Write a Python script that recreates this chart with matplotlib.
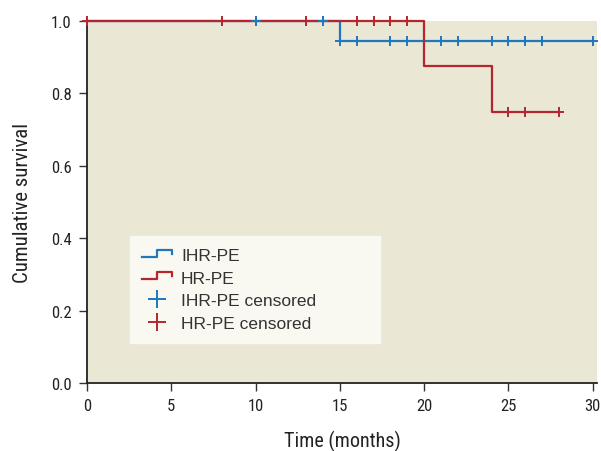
# Kaplan-Meier curves, IHR-PE vs HR-PE
import matplotlib
matplotlib.use("Agg")
import matplotlib.pyplot as plt
from matplotlib.legend_handler import HandlerBase
from matplotlib.lines import Line2D

# step data (time, survival)
ihr_time = [0, 15, 30]
ihr_surv = [1.0, 0.944, 0.944]
hr_time = [0, 20, 24, 28]
hr_surv = [1.0, 0.875, 0.75, 0.75]

# censored times
ihr_cens_t = [10, 14, 15, 16, 18, 19, 21, 22, 24, 25, 26, 27, 30]
hr_cens_t = [0, 8, 13, 16, 17, 18, 19, 25, 26, 28]

xticks = [0, 5, 10, 15, 20, 25, 30]
yticks = [0.0, 0.2, 0.4, 0.6, 0.8, 1.0]

blue = '#1f77bd'
red = '#b3262e'
bg = '#ebe7d5'


def surv_at(times, survs, t):
    s = survs[0]
    for ti, si in zip(times, survs):
        if t >= ti:
            s = si
    return s


ihr_cens_s = [surv_at(ihr_time, ihr_surv, t) for t in ihr_cens_t]
hr_cens_s = [surv_at(hr_time, hr_surv, t) for t in hr_cens_t]

cond = ['Roboto Condensed', 'DejaVu Sans']

fig = plt.figure(figsize=(6.01, 4.52), dpi=100)
ax = fig.add_axes([0.1448, 0.1504, 0.8485, 0.8009])
ax.set_facecolor(bg)

ax.step(ihr_time, ihr_surv, where='post', color=blue, lw=1.6, clip_on=False, zorder=3)
ax.step(hr_time, hr_surv, where='post', color=red, lw=1.6, clip_on=False, zorder=4)
ax.plot(ihr_cens_t, ihr_cens_s, ls='none', marker='+', ms=6.5, mew=1.4,
        color=blue, clip_on=False, zorder=5)
ax.plot(hr_cens_t, hr_cens_s, ls='none', marker='+', ms=6.5, mew=1.4,
        color=red, clip_on=False, zorder=6)

ax.set_xlim(0, 30.25)
ax.set_ylim(0, 1.0)
ax.set_xticks(xticks)
ax.set_yticks(yticks)
ax.set_xticklabels([str(x) for x in xticks], family=cond, fontsize=12, color='#222222')
ax.set_yticklabels(['%.1f' % y for y in yticks], family=cond, fontsize=12, color='#222222')
ax.tick_params(direction='out', length=6, width=1, color='#333333', pad=5)
for s in ['top', 'right']:
    ax.spines[s].set_visible(False)
for s in ['left', 'bottom']:
    ax.spines[s].set_linewidth(1.3)
    ax.spines[s].set_color('#222222')

ax.set_xlabel('Time (months)', family=cond, fontsize=14.5, labelpad=12, color='#222222')
ax.set_ylabel('Cumulative survival', family=cond, fontsize=15, labelpad=14, color='#222222')


# legend handle drawn as a small step
class StepHandler(HandlerBase):
    def create_artists(self, legend, orig, xd, yd, w, h, fontsize, trans):
        xs = [xd, xd + w * 0.5, xd + w * 0.5, xd + w, xd + w]
        ys = [yd + h * 0.3, yd + h * 0.3, yd + h * 0.85, yd + h * 0.85, yd + h * 0.55]
        ln = Line2D(xs, ys, color=orig.get_color(), lw=1.6, transform=trans)
        return [ln]


h1 = Line2D([], [], color=blue)
h2 = Line2D([], [], color=red)
h3 = Line2D([], [], ls='none', marker='+', ms=13, mew=1.4, color=blue)
h4 = Line2D([], [], ls='none', marker='+', ms=13, mew=1.4, color=red)
leg = ax.legend([h1, h2, h3, h4],
                ['IHR-PE', 'HR-PE', 'IHR-PE censored', 'HR-PE censored'],
                handler_map={h1: StepHandler(), h2: StepHandler()},
                loc='upper left', bbox_to_anchor=(0.084, 0.108, 0.49, 0.298),
                mode='expand', borderaxespad=0, frameon=True, fancybox=False,
                facecolor='#f9f8f1', edgecolor='#f9f8f1', framealpha=1,
                prop={'family': ['Liberation Sans', 'DejaVu Sans'], 'size': 12.5},
                handlelength=1.75, handletextpad=0.5, labelspacing=0.42,
                borderpad=0.7)
for t in leg.get_texts():
    t.set_color('#333333')

fig.savefig('out.png', dpi=100)
